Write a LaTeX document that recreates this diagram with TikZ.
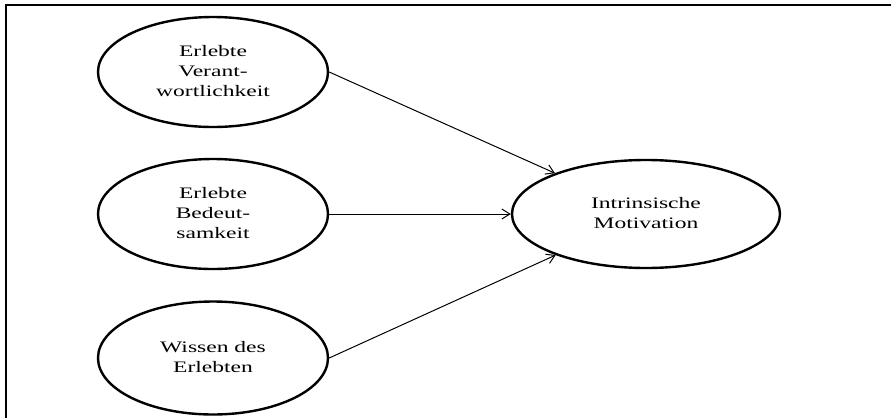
\documentclass[tikz,border=0pt]{standalone}
\usepackage{fontspec}
\usepackage{tikz}
\usetikzlibrary{shapes.geometric,arrows.meta}
\setmainfont{Liberation Serif}
\newcommand{\widelines}[1]{\scalebox{1.47}[1]{\begin{tabular}{@{}c@{}}#1\end{tabular}}}

\begin{document}
\begin{tikzpicture}
        [x=1pt,y=-1pt,
         every node/.style={ellipse,draw,line width=2.4pt,inner sep=0pt,
           font=\fontsize{16}{20}\selectfont},
         cause/.style={minimum width=230pt,minimum height=110pt},
         effect/.style={minimum width=268pt,minimum height=108pt}]
        \useasboundingbox (0,0) rectangle (892,418);
        \draw[line width=1.7pt] (891,5) -- (6,5) -- (6,418);

        \node[cause] (v1) at (213, 72) {\widelines{Erlebte\\Verant-\\wortlichkeit}};
        \node[cause] (v2) at (213, 214) {\widelines{Erlebte\\Bedeut-\\samkeit}};
        \node[cause,minimum height=113pt] (v3) at (213, 358) {\widelines{Wissen des\\Erlebten}};
        \node[effect] (mot) at (646, 214) {\widelines{Intrinsische\\Motivation}};

        \foreach \from in {v1, v2, v3}
            \draw[-{Straight Barb[length=8pt,width=10pt]},line width=1pt] (\from.east) -- (mot);

      \end{tikzpicture}
\end{document}
